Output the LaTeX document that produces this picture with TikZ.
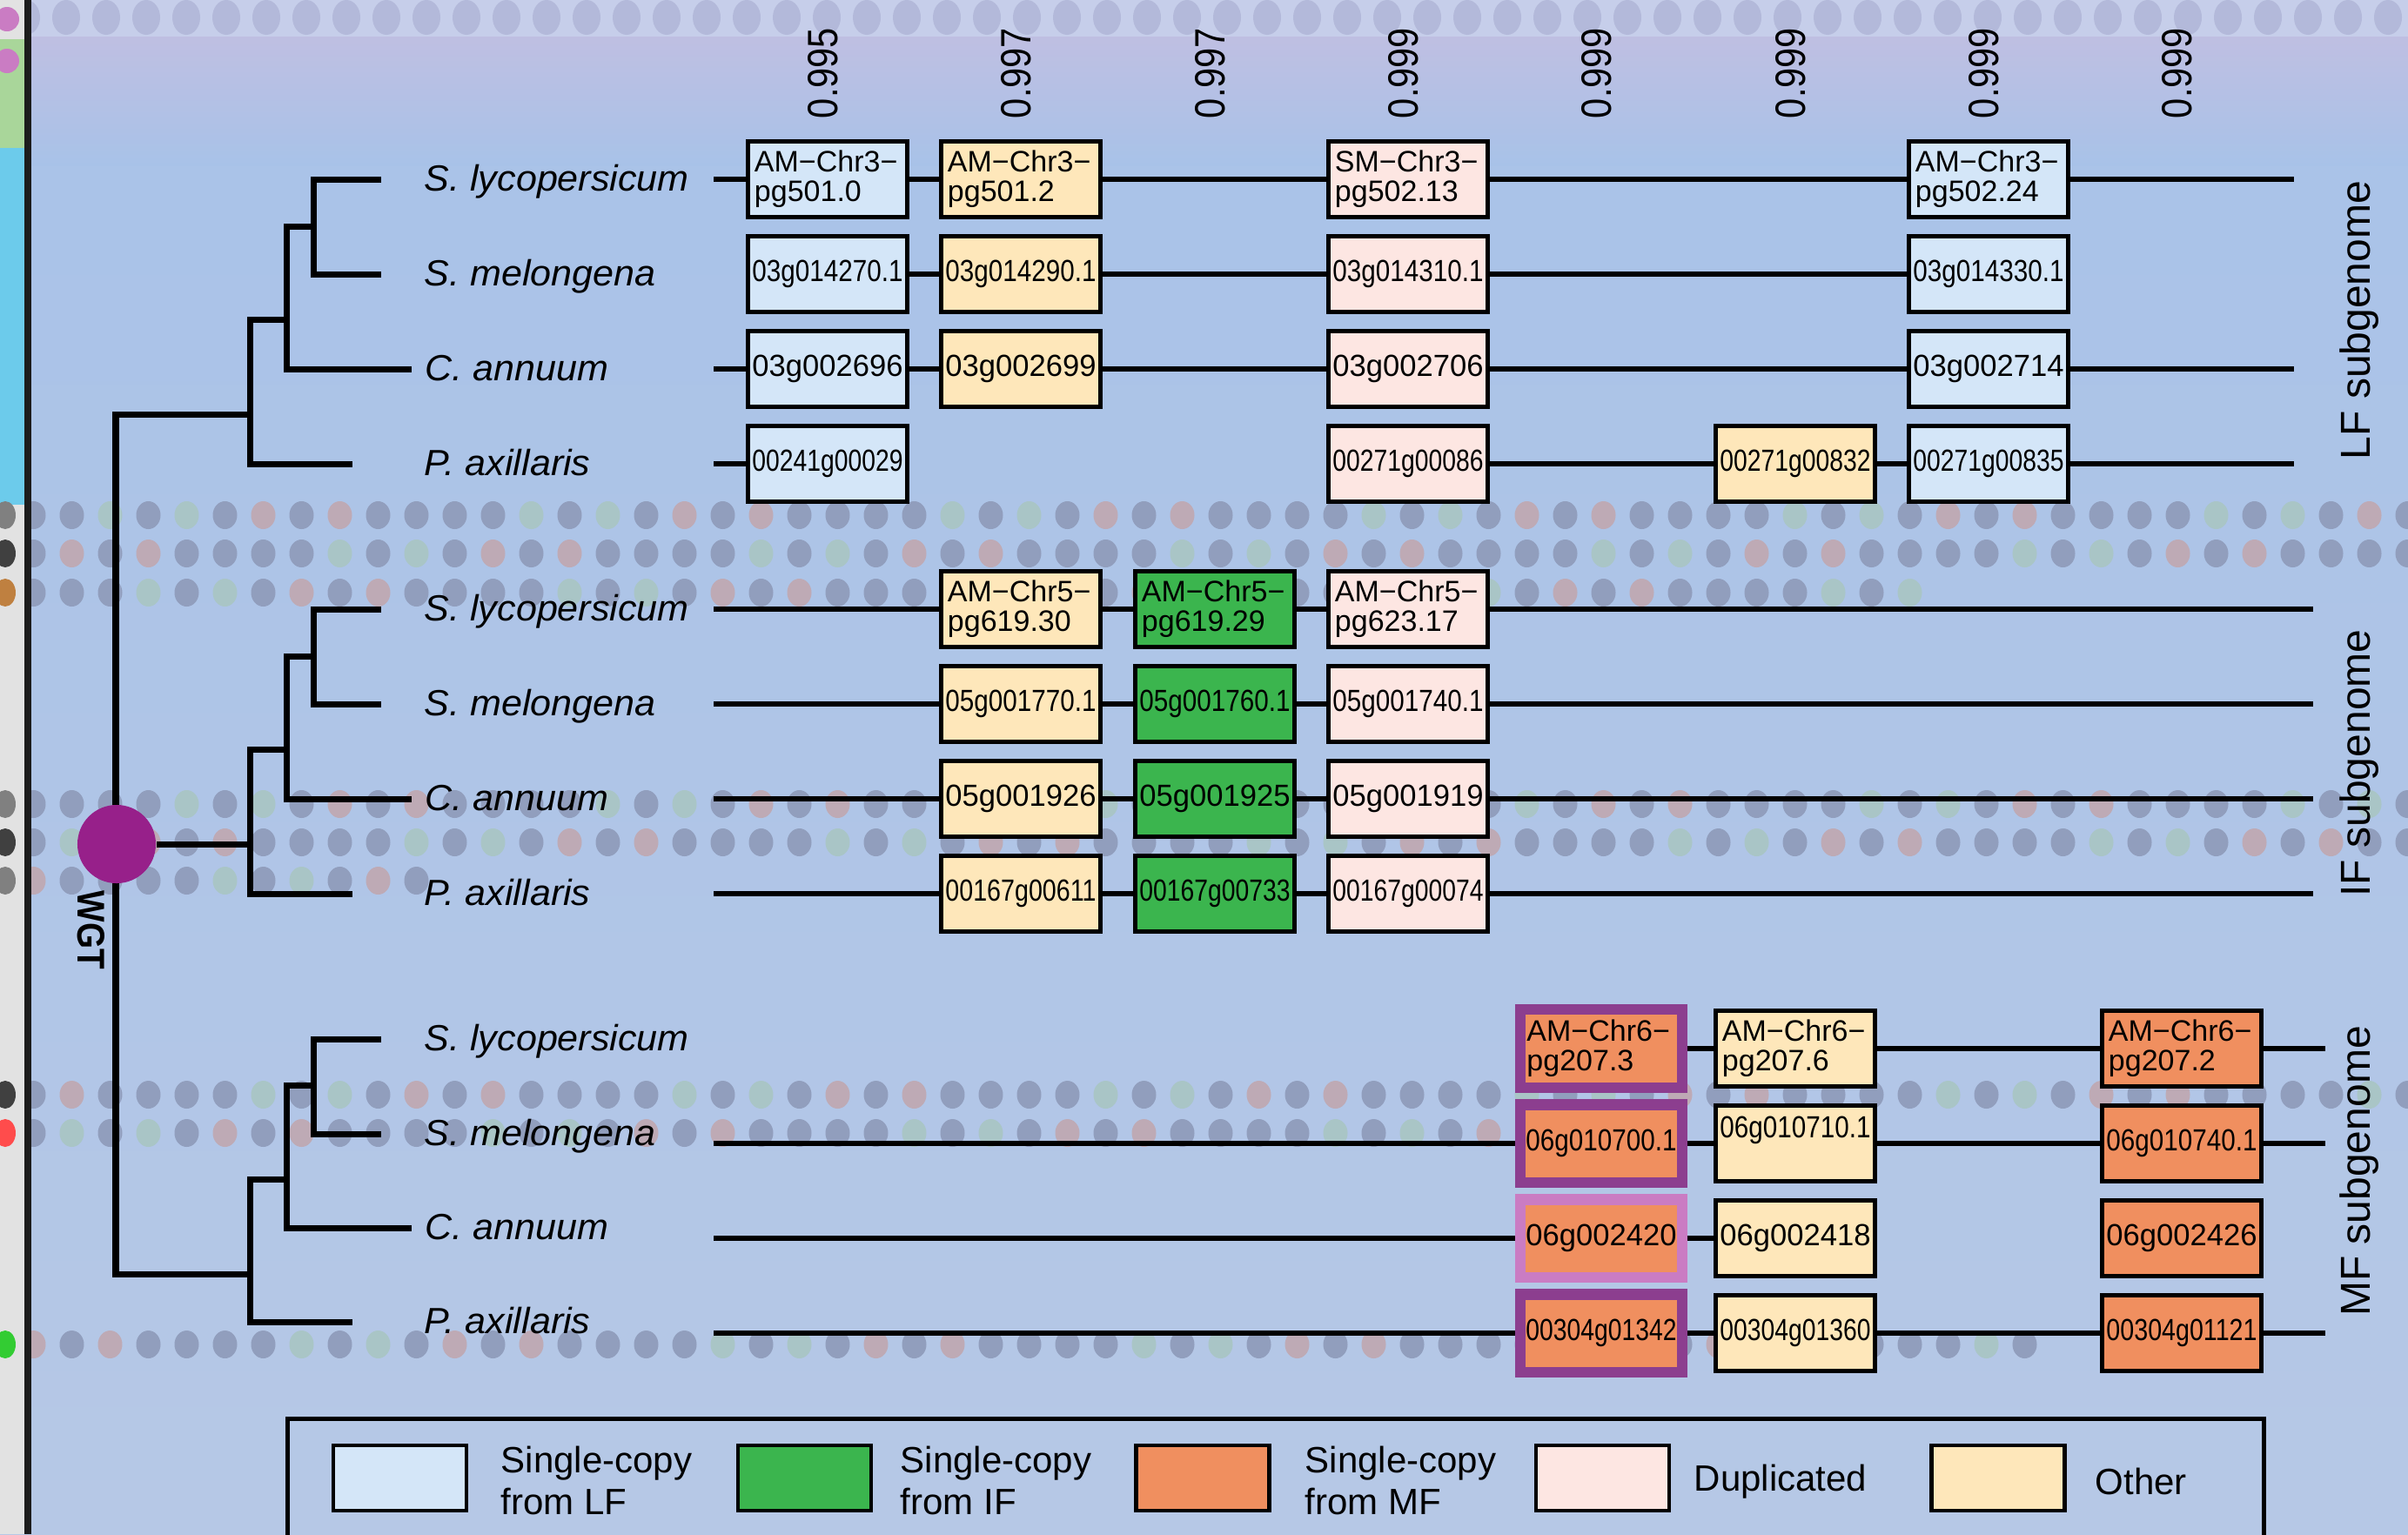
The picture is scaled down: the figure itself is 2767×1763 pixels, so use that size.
\documentclass[tikz,border=0pt]{standalone}
\usepackage{fontspec}
\setmainfont{Liberation Sans}
\usepackage{graphicx}
\definecolor{bgblue}{HTML}{B0C6E6}
\definecolor{bgtop}{HTML}{A8C2E8}
\definecolor{bgbot}{HTML}{B6C8E6}
\definecolor{lfb}{HTML}{D4E6F8}
\definecolor{oth}{HTML}{FEE7BA}
\definecolor{dup}{HTML}{FDE6E2}
\definecolor{ifg}{HTML}{3BB54E}
\definecolor{mfo}{HTML}{F08F5F}
\definecolor{purpA}{HTML}{8C3E8F}
\definecolor{purpB}{HTML}{CA7CC3}
\definecolor{wgtc}{HTML}{97208A}
\definecolor{dotgray}{HTML}{919EBD}
\definecolor{dotpink}{HTML}{BEAAB5}
\definecolor{dotgreen}{HTML}{A9C5C6}
\definecolor{topband}{HTML}{C6CEEA}
\definecolor{topdot}{HTML}{B3B9DA}
\definecolor{haze}{HTML}{BFBFE2}
\definecolor{framec}{HTML}{1C1C1C}
\definecolor{stripcyan}{HTML}{6CCBEB}
\definecolor{stripgreen}{HTML}{A9D69A}
\definecolor{stripgray}{HTML}{E2E2E2}

\newcommand{\gtxt}[1]{\resizebox{1.73cm}{0.245cm}{#1}}
\newcommand{\spn}[1]{\scalebox{1.03}[1]{\itshape #1}}
\newcommand{\lgt}[1]{#1}
\newcommand{\dotrow}[3]{%
  \foreach \k in {0,...,#2}{%
    \pgfmathtruncatemacro{\dc}{mod(\k*5+#3,11)}%
    \ifnum\dc<7\relax\def\dcol{dotgray}\else\ifnum\dc<9\relax\def\dcol{dotpink}\else\def\dcol{dotgreen}\fi\fi
    \fill[fill=\dcol] ({38.5+44*\k},#1) ellipse [x radius=14, y radius=16];
  }%
}

\tikzset{
  gone/.style={draw=black, line width=0.045cm, minimum width=1.83cm, minimum height=0.87cm, inner sep=0pt},
  gtwo/.style={gone, text width=1.68cm, align=left, inner xsep=0.075cm, inner ysep=0pt,
    font=\fontsize{9.67pt}{9.67pt}\selectfont},
  pone/.style={draw=purpA, fill=mfo, line width=0.12cm, minimum width=1.85cm, minimum height=0.89cm, inner sep=0pt},
  ptwo/.style={pone, text width=1.71cm, align=left, inner xsep=0.07cm, inner ysep=0pt,
    font=\fontsize{9.67pt}{9.67pt}\selectfont},
  rowline/.style={line width=0.055cm, black},
  tree/.style={line width=0.07cm, black},
  splbl/.style={anchor=base west, inner sep=0pt, font=\fontsize{11.9pt}{11.9pt}\selectfont},
  subg/.style={rotate=90, inner sep=0pt, font=\fontsize{13.66pt}{13.66pt}\selectfont},
  score/.style={rotate=90, inner sep=0pt},
  legsw/.style={draw=black, line width=0.045cm, minimum width=1.53cm, minimum height=0.75cm, inner sep=0pt},
  legtxt/.style={anchor=west, inner sep=0pt, align=left, font=\fontsize{11.95pt}{13.66pt}\selectfont}
}

\begin{document}
\begin{tikzpicture}[x=0.01cm, y=-0.01cm]
\useasboundingbox (0,0) rectangle (2767,1763);
\clip (0,0) rectangle (2767,1763);
% background
\shade[top color=bgtop, bottom color=bgbot] (0,0) rectangle (2767,1763);
\shade[top color=haze, bottom color=bgtop] (0,40) rectangle (2767,190);
\fill[topband] (0,0) rectangle (2767,42);
\foreach \k in {0,...,60} \fill[topdot] ({30+46*\k},20) ellipse [x radius=16, y radius=20];
% background dot rows
\dotrow{592}{62}{0}
\dotrow{636}{62}{3}
\dotrow{681}{49}{6}
\dotrow{924}{62}{1}
\dotrow{968}{62}{4}
\dotrow{1012}{10}{7}
\dotrow{1258}{62}{2}
\dotrow{1302}{38}{5}
\dotrow{1545}{52}{8}
% left strip
\fill[stripgray] (0,0) rectangle (28,1763);
\fill[stripgreen] (0,45) rectangle (28,170);
\fill[stripcyan] (0,170) rectangle (28,580);
\fill[purpB] (8,22) circle [radius=14];
\fill[purpB] (8,70) circle [radius=14];
\foreach \yy/\cc in {592/gray,636/darkgray,681/brown,924/gray,968/darkgray,1012/gray,1258/darkgray,1302/red!70,1545/green!60!gray}
  \fill[\cc] (6,\yy) ellipse [x radius=12, y radius=16];
\draw[line width=0.08cm, framec] (32,0) -- (32,1763);

% scores
\foreach \x/\v [count=\i] in {951/0.995,1173/0.997,1396/0.997,1618/0.999,1840/0.999,2063/0.999,2285/0.999,2507/0.999}
  \node[score] (sc\i) at (\x-5,84) {\resizebox{1.04cm}{0.34cm}{\v}};

% ---------- trees ----------
\coordinate (Lt1) at (438,206); \coordinate (Lt2) at (438,315);
\coordinate (Lt3) at (473,424); \coordinate (Lt4) at (405,533);
\coordinate (Ln1) at (360,260); \coordinate (Ln2) at (329,367);
\coordinate (Ln3) at (287,476); \coordinate (Lr) at (133,476);
\coordinate (It1) at (438,700); \coordinate (It2) at (438,809);
\coordinate (It3) at (473,918); \coordinate (It4) at (405,1027);
\coordinate (In1) at (360,754); \coordinate (In2) at (329,861);
\coordinate (In3) at (287,970);
\coordinate (Mt1) at (438,1194); \coordinate (Mt2) at (438,1303);
\coordinate (Mt3) at (473,1411); \coordinate (Mt4) at (405,1519);
\coordinate (Mn1) at (360,1247); \coordinate (Mn2) at (329,1355);
\coordinate (Mn3) at (287,1464); \coordinate (Mr) at (133,1464);

\draw[tree] (Lt1) -| (Ln1) |- (Lt2);
\draw[tree] (Ln1) -| (Ln2) |- (Lt3);
\draw[tree] (Ln2) -| (Ln3) |- (Lt4);
\draw[tree] (It1) -| (In1) |- (It2);
\draw[tree] (In1) -| (In2) |- (It3);
\draw[tree] (In2) -| (In3) |- (It4);
\draw[tree] (Mt1) -| (Mn1) |- (Mt2);
\draw[tree] (Mn1) -| (Mn2) |- (Mt3);
\draw[tree] (Mn2) -| (Mn3) |- (Mt4);
\draw[tree] (Ln3) -- (Lr) -- (Mr) -- (Mn3);
\node[circle, fill=wgtc, minimum size=0.9cm, inner sep=0pt] (wgt) at (134,970) {};
\draw[tree] (In3) -- (wgt);
\node[rotate=-90, inner sep=0pt] (wgtlbl) at (105,1069) {\resizebox{0.9cm}{0.31cm}{\bfseries WGT}};

% species labels
\node[splbl] (LsA) at (487,219) {\spn{S. lycopersicum}};
\node[splbl] (LsB) at (487,328) {\spn{S. melongena}};
\node[splbl] (LsC) at (488,437) {\spn{C. annuum}};
\node[splbl] (LsD) at (487,546) {\spn{P. axillaris}};
\node[splbl] (IsA) at (487,713) {\spn{S. lycopersicum}};
\node[splbl] (IsB) at (487,822) {\spn{S. melongena}};
\node[splbl] (IsC) at (488,931) {\spn{C. annuum}};
\node[splbl] (IsD) at (487,1040) {\spn{P. axillaris}};
\node[splbl] (MsA) at (487,1207) {\spn{S. lycopersicum}};
\node[splbl] (MsB) at (487,1316) {\spn{S. melongena}};
\node[splbl] (MsC) at (488,1424) {\spn{C. annuum}};
\node[splbl] (MsD) at (487,1532) {\spn{P. axillaris}};

% subgenome labels
\node[subg] (lfsub) at (2711,368) {LF subgenome};
\node[subg] (ifsub) at (2711,877) {IF subgenome};
\node[subg] (mfsub) at (2711,1346) {MF subgenome};

% ---------- LF boxes ----------
\node[gtwo, fill=lfb] (L11) at (951,206) {AM−Chr3−\\pg501.0};
\node[gtwo, fill=oth] (L12) at (1173,206) {AM−Chr3−\\pg501.2};
\node[gtwo, fill=dup] (L14) at (1618,206) {SM−Chr3−\\pg502.13};
\node[gtwo, fill=lfb] (L17) at (2285,206) {AM−Chr3−\\pg502.24};
\node[gone, fill=lfb] (L21) at (951,315) {\gtxt{03g014270.1}};
\node[gone, fill=oth] (L22) at (1173,315) {\gtxt{03g014290.1}};
\node[gone, fill=dup] (L24) at (1618,315) {\gtxt{03g014310.1}};
\node[gone, fill=lfb] (L27) at (2285,315) {\gtxt{03g014330.1}};
\node[gone, fill=lfb] (L31) at (951,424) {\gtxt{03g002696}};
\node[gone, fill=oth] (L32) at (1173,424) {\gtxt{03g002699}};
\node[gone, fill=dup] (L34) at (1618,424) {\gtxt{03g002706}};
\node[gone, fill=lfb] (L37) at (2285,424) {\gtxt{03g002714}};
\node[gone, fill=lfb] (L41) at (951,533) {\gtxt{00241g00029}};
\node[gone, fill=dup] (L44) at (1618,533) {\gtxt{00271g00086}};
\node[gone, fill=oth] (L46) at (2063,533) {\gtxt{00271g00832}};
\node[gone, fill=lfb] (L47) at (2285,533) {\gtxt{00271g00835}};

\coordinate (sL1) at (820,206); \coordinate (eL1) at (2636,206);
\coordinate (sL3) at (820,424); \coordinate (eL3) at (2636,424);
\coordinate (sL4) at (820,533); \coordinate (eL4) at (2636,533);
\draw[rowline] (sL1) -- (L11) -- (L12) -- (L14) -- (L17) -- (eL1);
\draw[rowline] (L21) -- (L22) -- (L24) -- (L27);
\draw[rowline] (sL3) -- (L31) -- (L32) -- (L34) -- (L37) -- (eL3);
\draw[rowline] (sL4) -- (L41);
\draw[rowline] (L44) -- (L46) -- (L47) -- (eL4);

% ---------- IF boxes ----------
\node[gtwo, fill=oth] (I12) at (1173,700) {AM−Chr5−\\pg619.30};
\node[gtwo, fill=ifg] (I13) at (1396,700) {AM−Chr5−\\pg619.29};
\node[gtwo, fill=dup] (I14) at (1618,700) {AM−Chr5−\\pg623.17};
\node[gone, fill=oth] (I22) at (1173,809) {\gtxt{05g001770.1}};
\node[gone, fill=ifg] (I23) at (1396,809) {\gtxt{05g001760.1}};
\node[gone, fill=dup] (I24) at (1618,809) {\gtxt{05g001740.1}};
\node[gone, fill=oth] (I32) at (1173,918) {\gtxt{05g001926}};
\node[gone, fill=ifg] (I33) at (1396,918) {\gtxt{05g001925}};
\node[gone, fill=dup] (I34) at (1618,918) {\gtxt{05g001919}};
\node[gone, fill=oth] (I42) at (1173,1027) {\gtxt{00167g00611}};
\node[gone, fill=ifg] (I43) at (1396,1027) {\gtxt{00167g00733}};
\node[gone, fill=dup] (I44) at (1618,1027) {\gtxt{00167g00074}};

\foreach \r/\yy in {1/700,2/809,3/918,4/1027}{
  \coordinate (sI\r) at (820,\yy); \coordinate (eI\r) at (2658,\yy);
  \draw[rowline] (sI\r) -- (I\r2) -- (I\r3) -- (I\r4) -- (eI\r);
}

% ---------- MF boxes ----------
\node[ptwo] (M15) at (1840,1205) {AM−Chr6−\\pg207.3};
\node[gtwo, fill=oth] (M16) at (2063,1205) {AM−Chr6−\\pg207.6};
\node[gtwo, fill=mfo] (M18) at (2507,1205) {AM−Chr6−\\pg207.2};
\node[pone] (M25) at (1840,1314) {\gtxt{06g010700.1}};
\node[gone, fill=oth, label={[inner sep=0pt, yshift=0.15cm]center:\gtxt{06g010710.1}}] (M26) at (2063,1314) {};
\node[gone, fill=mfo] (M28) at (2507,1314) {\gtxt{06g010740.1}};
\node[pone, draw=purpB] (M35) at (1840,1423) {\gtxt{06g002420}};
\node[gone, fill=oth] (M36) at (2063,1423) {\gtxt{06g002418}};
\node[gone, fill=mfo] (M38) at (2507,1423) {\gtxt{06g002426}};
\node[pone] (M45) at (1840,1532) {\gtxt{00304g01342}};
\node[gone, fill=oth] (M46) at (2063,1532) {\gtxt{00304g01360}};
\node[gone, fill=mfo] (M48) at (2507,1532) {\gtxt{00304g01121}};

\coordinate (eM1) at (2672,1205);
\coordinate (sM2) at (820,1314); \coordinate (eM2) at (2672,1314);
\coordinate (sM3) at (820,1423);
\coordinate (sM4) at (820,1532); \coordinate (eM4) at (2672,1532);
\draw[rowline] (M15) -- (M16) -- (M18) -- (eM1);
\draw[rowline] (sM2) -- (M25) -- (M26) -- (M28) -- (eM2);
\draw[rowline] (sM3) -- (M35) -- (M36);
\draw[rowline] (sM4) -- (M45) -- (M46) -- (M48) -- (eM4);

% ---------- legend ----------
\draw[line width=0.05cm] (330,1630) rectangle (2601,1900);
\node[legsw, fill=lfb] (sw1) at (459.5,1698.5) {};
\node[legsw, fill=ifg] (sw2) at (924.5,1698.5) {};
\node[legsw, fill=mfo] (sw3) at (1382,1698.5) {};
\node[legsw, fill=dup] (sw4) at (1841.5,1698.5) {};
\node[legsw, fill=oth] (sw5) at (2296,1698.5) {};
\node[legtxt] (lt1) at (575,1701) {\lgt{Single-copy}\\\lgt{from LF}};
\node[legtxt] (lt2) at (1034,1701) {\lgt{Single-copy}\\\lgt{from IF}};
\node[legtxt] (lt3) at (1499,1701) {\lgt{Single-copy}\\\lgt{from MF}};
\node[legtxt] (lt4) at (1946,1703) {\lgt{Duplicated}};
\node[legtxt] (lt5) at (2407,1702) {\lgt{Other}};
\end{tikzpicture}
\end{document}
